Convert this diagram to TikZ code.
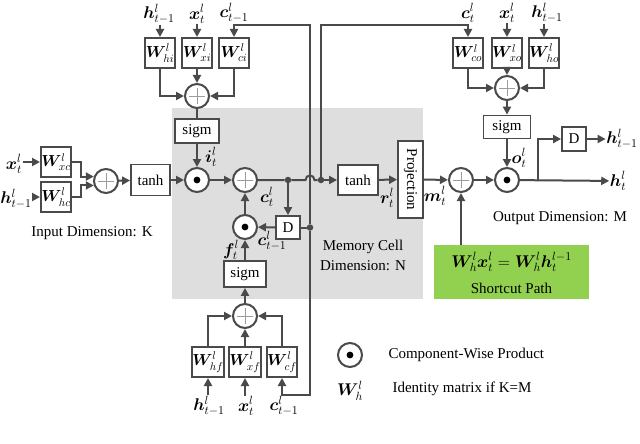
\documentclass[tikz,border=0pt]{standalone}
\usepackage{fix-cm}
\usepackage{fontspec}
\setmainfont{Liberation Serif}
\usepackage{amsmath,bm}
\usepackage{graphicx}
\usetikzlibrary{arrows.meta,calc}
\definecolor{lc}{HTML}{4A4A4A}
\definecolor{cellgray}{HTML}{DEDEDE}
\definecolor{sgreen}{HTML}{92D050}
\begin{document}
\begin{tikzpicture}[x=1pt,y=-1pt,
  font=\fontsize{15}{17}\selectfont,
  conn/.style={draw=lc,line width=2pt},
  arr/.style={conn,-{Triangle[length=8pt,width=8pt]}},
  wbox/.style={draw=lc,line width=2pt,fill=white,minimum width=30pt,minimum height=30pt,inner sep=0pt,font=\fontsize{16}{16}\selectfont},
  fbox/.style={draw=lc,line width=1.8pt,fill=white,inner sep=0pt},
  opc/.style={circle,draw=lc,line width=2pt,fill=white,minimum size=24pt,inner sep=0pt},
  plusop/.style={opc,path picture={\draw[lc!55,line width=0.6pt]
     ([xshift=-8pt]path picture bounding box.center) -- ([xshift=8pt]path picture bounding box.center)
     ([yshift=-8pt]path picture bounding box.center) -- ([yshift=8pt]path picture bounding box.center);}},
  prodop/.style={opc,path picture={\fill[black] (path picture bounding box.center) circle (3.4pt);}},
  jdot/.style={circle,fill=lc,inner sep=0pt,minimum size=6.5pt},
  lab/.style={inner sep=0.5pt,font=\fontsize{17}{17}\selectfont},
]
\useasboundingbox (0,0) rectangle (640,444);
\fill[white] (0,0) rectangle (640,444);
% memory cell background
\fill[cellgray] (172,108) rectangle (423,299);

% ---------------- input gate ----------------
\node[lab] (lh1) at (159,14) {$\bm{h}^{l}_{t-1}$};
\node[lab] (lx1) at (197,14) {$\bm{x}^{l}_{t}$};
\node[lab] (lc1) at (234,13) {$\bm{c}^{l}_{t-1}$};
\node[wbox] (Whi) at (160,53) {$\bm{W}^{l}_{hi}$};
\node[wbox] (Wxi) at (197,53) {$\bm{W}^{l}_{xi}$};
\node[wbox] (Wci) at (234,53) {$\bm{W}^{l}_{ci}$};
\node[plusop] (plusI) at (197,96) {};
\node[fbox,minimum width=44pt,minimum height=24pt] (sigmI) at (197,131) {sigm};
\node[prodop] (prodI) at (197,180) {};
\node[lab] (li) at (211,157) {$\bm{i}^{l}_{t}$};

\draw[arr] (Whi |- lh1.south) -- (Whi);
\draw[arr] (Wxi |- lx1.south) -- (Wxi);
\draw[arr] (Whi) |- (plusI);
\draw[arr] (Wci) |- (plusI);
\draw[arr] (Wxi) -- (plusI);
\draw[conn] (plusI) -- (sigmI);
\draw[arr] (sigmI) -- (prodI);

% ---------------- cell input ----------------
\node[lab] (lx0) at (14,164) {$\bm{x}^{l}_{t}$};
\node[lab] (lh0) at (16,199) {$\bm{h}^{l}_{t-1}$};
\node[wbox] (Wxc) at (56,162) {$\bm{W}^{l}_{xc}$};
\node[wbox] (Whc) at (56,197) {$\bm{W}^{l}_{hc}$};
\node[plusop] (plusC) at (106,181) {};
\node[fbox,minimum width=39pt,minimum height=31pt] (tanhC) at (150.5,180) {tanh};
\node (indim) at (92,233) {Input Dimension: K};

\draw[arr] (lx0.east |- Wxc) -- (Wxc);
\draw[arr] (lh0.east |- Whc) -- (Whc);
\draw[arr] (Wxc.east) -- ++(9,0) |- (plusC.160);
\draw[arr] (Whc.east) -- ++(9,0) |- (plusC.200);
\draw[arr] (plusC) -- (tanhC);
\draw[arr] (tanhC) -- (prodI);

% ---------------- memory cell ----------------
\node[plusop] (plusCell) at (245,180) {};
\node[jdot] (jd1) at (288,180) {};
\node[jdot] (jd2) at (321,180) {};
\node[jdot] (jd3) at (310,227.5) {};
\coordinate (hopL) at (305.5,180);
\coordinate (hopR) at (314.5,180);
\node[fbox,minimum width=24pt,minimum height=23pt] (D1) at (288,227.5) {D};
\node[prodop] (prodF) at (245,227) {};
\node[lab] (lct) at (267,197) {$\bm{c}^{l}_{t}$};
\node[lab] (lctm) at (272,241) {$\bm{c}^{l}_{t-1}$};
\node[lab] (lf) at (231,250) {$\bm{f}^{l}_{t}$};
\node (mc1) at (363,247) {Memory Cell};
\node (mc2) at (363,266) {Dimension: N};

\draw[arr] (prodI) -- (plusCell);
\draw[conn] (plusCell) -- (jd1) -- (hopL) .. controls (305.5,174) and (314.5,174) .. (hopR) -- (jd2);
\draw[arr] (jd1) -- (D1);
\draw[arr] (D1) -- (prodF);
\draw[conn] (D1) -- (jd3);
\draw[arr] (prodF) -- (plusCell);

% forget gate
\node[fbox,minimum width=42pt,minimum height=26pt] (sigmF) at (245,274) {sigm};
\node[plusop] (plusF) at (245,316) {};
\node[wbox] (Whf) at (208,362) {$\bm{W}^{l}_{hf}$};
\node[wbox] (Wxf) at (245,362) {$\bm{W}^{l}_{xf}$};
\node[wbox] (Wcf) at (282,362) {$\bm{W}^{l}_{cf}$};
\node[lab] (lh3) at (209,406) {$\bm{h}^{l}_{t-1}$};
\node[lab] (lx3) at (246,406) {$\bm{x}^{l}_{t}$};
\node[lab] (lc3) at (284,406) {$\bm{c}^{l}_{t-1}$};

\draw[arr] (sigmF) -- (prodF);
\draw[arr] (plusF) -- (sigmF);
\draw[arr] (Whf) |- (plusF);
\draw[arr] (Wcf) |- (plusF);
\draw[arr] (Wxf) -- (plusF);
\draw[arr] (Whf |- lh3.north) -- (Whf);
\draw[arr] (Wxf |- lx3.north) -- (Wxf);

% c_{t-1} feedback line
\coordinate (vtop) at (310,25);
\coordinate (ctop1) at (234,25);
\coordinate (vbot) at (310,395);
\coordinate (cbot) at (282,395);
\draw[arr] (jd3) -- (vtop) -- (ctop1) -- (Wci);
\draw[arr] (jd3) -- (vbot) -- (cbot) -- (Wcf);

% ---------------- output side ----------------
\node[fbox,minimum width=40pt,minimum height=30pt] (tanh2) at (358,180) {tanh};
\node[fbox,minimum width=25pt,minimum height=77pt] (proj) at (410.5,179.5) {\rotatebox{-90}{Projection}};
\node[lab] (lr) at (387,198) {$\bm{r}^{l}_{t}$};
\node[lab] (lm) at (435,196) {$\bm{m}^{l}_{t}$};
\node[plusop] (plusM) at (461,180) {};
\node[prodop] (prodO) at (507,180) {};
\coordinate (split) at (538,180);
\node[fbox,minimum width=24pt,minimum height=24pt] (D2) at (574,139) {D};
\node[lab] (hprev) at (622,139) {$\bm{h}^{l}_{t-1}$};
\node[lab] (hout) at (618,181) {$\bm{h}^{l}_{t}$};
\node[lab] (lo) at (519,158) {$\bm{o}^{l}_{t}$};

\draw[arr] (jd2) -- (tanh2);
\draw[arr] (tanh2) -- (proj);
\draw[arr] (proj) -- (plusM);
\draw[arr] (plusM) -- (prodO);
\draw[arr] (prodO) -- (hout);
\draw[arr] (split) |- (D2);
\draw[arr] (D2) -- (hprev);

% output gate
\node[lab] (lc2) at (468,13) {$\bm{c}^{l}_{t}$};
\node[lab] (lx2) at (507,13) {$\bm{x}^{l}_{t}$};
\node[lab] (lh2) at (547,13) {$\bm{h}^{l}_{t-1}$};
\node[wbox] (Wco) at (468,53) {$\bm{W}^{l}_{co}$};
\node[wbox] (Wxo) at (507,53) {$\bm{W}^{l}_{xo}$};
\node[wbox] (Who) at (544,53) {$\bm{W}^{l}_{ho}$};
\node[plusop] (plusO) at (507,88) {};
\node[fbox,minimum width=47pt,minimum height=23pt] (sigmO) at (507,127) {sigm};

\draw[arr] (Wxo |- lx2.south) -- (Wxo);
\draw[arr] (Who |- lh2.south) -- (Who);
\draw[arr] (Wco) |- (plusO);
\draw[arr] (Who) |- (plusO);
\draw[arr] (Wxo) -- (plusO);
\draw[arr] (plusO) -- (sigmO);
\draw[arr] (sigmO) -- (prodO);

\coordinate (ct2a) at (321,25);
\coordinate (ct2b) at (468,25);
\draw[arr] (jd2) -- (ct2a) -- (ct2b) -- (Wco);

\node (outdim) at (560,218) {Output Dimension: M};

% shortcut
\node[fill=sgreen,minimum width=155pt,minimum height=54pt,inner sep=0pt] (green) at (511.5,272) {};
\node[font=\fontsize{17}{17}\selectfont] (gf) at (511.5,262) {$\bm{W}^{l}_{h}\bm{x}^{l}_{t}=\bm{W}^{l}_{h}\bm{h}^{l-1}_{t}$};
\node (gs) at (511.5,288) {Shortcut Path};
\draw[arr] (green.north -| plusM) -- (plusM);

% legend
\node[prodop] (prodL) at (350,355) {};
\node[anchor=west] (cwp) at (385,355) {Component-Wise Product};
\node[font=\fontsize{17}{17}\selectfont] (wl) at (350,391) {$\bm{W}^{l}_{h}$};
\node[anchor=west] (idm) at (389,389) {Identity matrix if K=M};
\end{tikzpicture}
\end{document}
